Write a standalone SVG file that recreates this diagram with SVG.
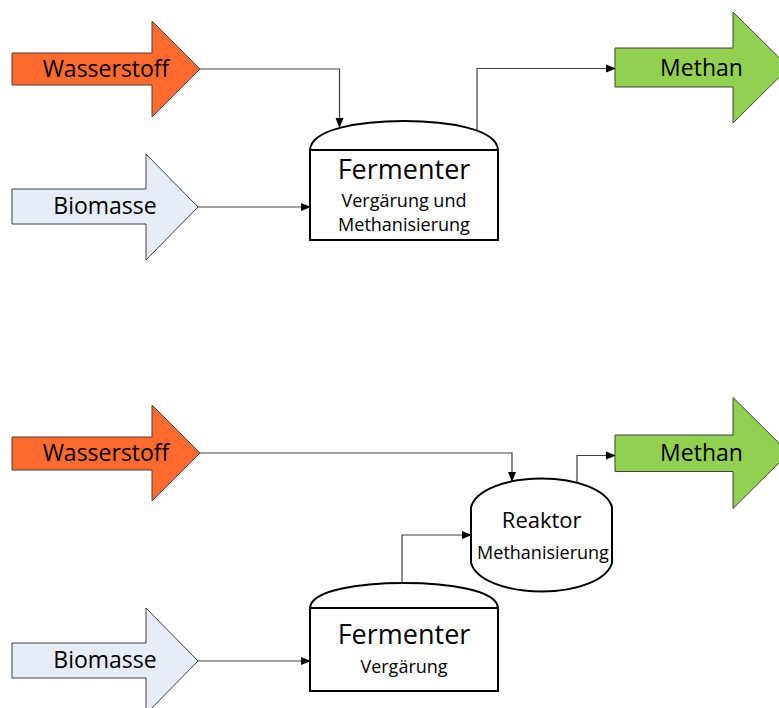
<svg xmlns="http://www.w3.org/2000/svg" width="779" height="708" viewBox="0 0 779 708">
<style>
.bigarrow{stroke:#404040;stroke-width:1}
.h2{fill:#FF6A2E}
.bio{fill:#E6EDF8}
.ch4{fill:#92D050}
.vessel{fill:#fff;stroke:#000;stroke-width:2}
.conn{fill:none;stroke:#404040;stroke-width:1.2}
text{font-family:"Open Sans","Noto Sans","Liberation Sans",sans-serif;fill:#000;text-anchor:middle}
.lbl{font-size:23px}
.t1{font-size:27px}
.t2{font-size:18px}
</style>
<defs>
<marker id="ah" markerWidth="10" markerHeight="10" refX="9" refY="5" orient="auto" markerUnits="userSpaceOnUse">
<path d="M0,1 L10,5 L0,9 Z" fill="#000"/>
</marker>
</defs>
<rect width="779" height="708" fill="#fff"/>

<g id="connectors">
<path class="conn" d="M200,69 H339.5 V127" marker-end="url(#ah)"/>
<path class="conn" d="M198,207 H310" marker-end="url(#ah)"/>
<path class="conn" d="M477,130 V68.5 H615" marker-end="url(#ah)"/>
<path class="conn" d="M200,453 H512 V481" marker-end="url(#ah)"/>
<path class="conn" d="M198,661 H310" marker-end="url(#ah)"/>
<path class="conn" d="M402,583 V535 H471" marker-end="url(#ah)"/>
<path class="conn" d="M577,482 V455.5 H615" marker-end="url(#ah)"/>
</g>

<g id="wasserstoff-top">
<path class="bigarrow h2" d="M12,53 H152 V21 L200,69 L152,117 V85 H12 Z"/>
<text class="lbl" x="106" y="77">Wasserstoff</text>
</g>
<g id="biomasse-top">
<path class="bigarrow bio" d="M12,189 H146 V154 L198,207 L146,260 V224 H12 Z"/>
<text class="lbl" x="105" y="214">Biomasse</text>
</g>
<g id="fermenter-top">
<path class="vessel" d="M310,150 C311,129 360,121 404,121 C448,121 497,129 498,150 Z"/>
<rect class="vessel" x="310" y="150" width="188" height="90"/>
<text class="t1" x="404" y="179">Fermenter</text>
<text class="t2" x="404" y="206.5">Vergärung und</text>
<text class="t2" x="404" y="230.5">Methanisierung</text>
</g>
<g id="methan-top">
<path class="bigarrow ch4" d="M615,48 H733 V12 L789,67.5 L733,123 V87 H615 Z"/>
<text class="lbl" x="701.5" y="76">Methan</text>
</g>

<g id="wasserstoff-bottom">
<path class="bigarrow h2" d="M12,437 H152 V405 L200,453 L152,501 V470 H12 Z"/>
<text class="lbl" x="106" y="460.5">Wasserstoff</text>
</g>
<g id="biomasse-bottom">
<path class="bigarrow bio" d="M12,643 H146 V608 L198,661 L146,714 V678 H12 Z"/>
<text class="lbl" x="105" y="668">Biomasse</text>
</g>
<g id="fermenter-bottom">
<path class="vessel" d="M310,608 C311,590 360,583 404,583 C448,583 497,590 498,608 Z"/>
<rect class="vessel" x="310" y="608" width="188" height="83"/>
<text class="t1" x="404" y="644">Fermenter</text>
<text class="t2" x="404" y="673">Vergärung</text>
</g>
<g id="reaktor">
<path class="vessel" d="M471,507 C476,490 506,478.5 541.7,478.5 C577,478.5 607,490 612,507 V563 C607,580 577,591.5 541.7,591.5 C506,591.5 476,580 471,563 Z"/>
<text style="font-size:22px" x="541.7" y="527.5">Reaktor</text>
<text class="t2" x="543" y="559">Methanisierung</text>
</g>
<g id="methan-bottom">
<path class="bigarrow ch4" d="M615,435 H733 V397.5 L789,453 L733,508.5 V471.5 H615 Z"/>
<text class="lbl" x="701.5" y="460.5">Methan</text>
</g>
</svg>
